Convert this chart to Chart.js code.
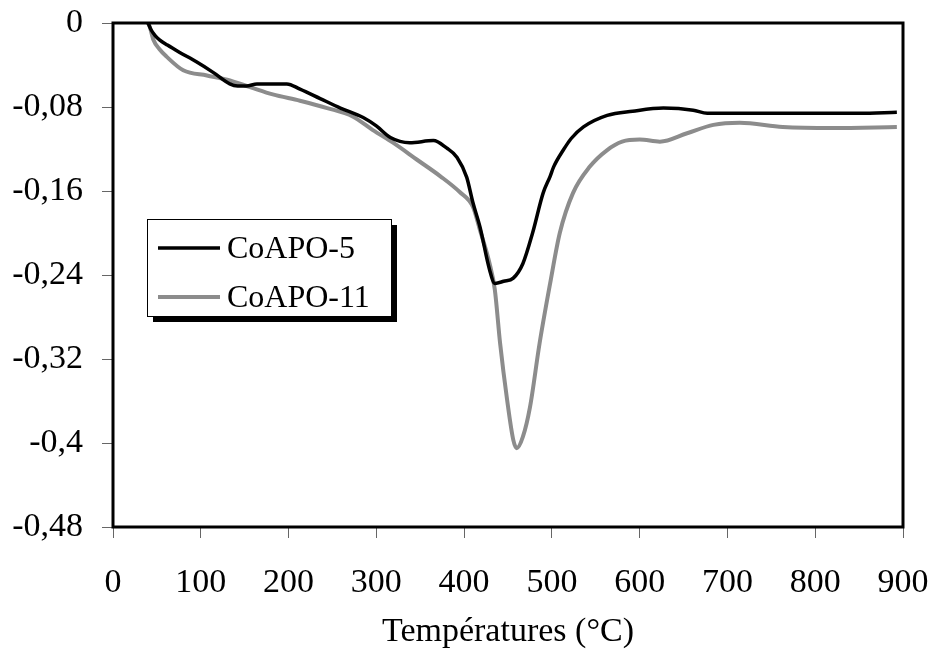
<!DOCTYPE html>
<html lang="fr">
<head>
<meta charset="utf-8">
<title>CoAPO-5 / CoAPO-11</title>
<script src="https://cdn.jsdelivr.net/npm/chart.js@4/dist/chart.umd.min.js"></script>
<style>
    html, body { margin: 0; padding: 0; background: #fff; }
    #contenedor { width: 931px; height: 661px; position: relative; }
</style>
</head>
<body>
<div id="contenedor">
    <canvas id="grafico"></canvas>
</div>
<script>
// Datos (temperatura en °C, valor en el eje Y)
const tempCoAPO5 = [40, 43, 48, 53, 62, 76, 95, 114, 133, 142, 152, 164, 180, 198, 213, 236, 259, 285, 300, 316, 338, 365, 380, 392, 403, 410, 418, 429, 435, 445, 456, 467, 478, 490, 498, 502, 513, 522, 536, 563, 592, 627, 661, 677, 706, 750, 800, 850, 893];
const valCoAPO5 = [0, -0.006, -0.012, -0.016, -0.021, -0.028, -0.037, -0.047, -0.058, -0.060, -0.060, -0.058, -0.058, -0.058, -0.063, -0.072, -0.081, -0.090, -0.098, -0.109, -0.114, -0.112, -0.119, -0.128, -0.147, -0.171, -0.194, -0.235, -0.248, -0.246, -0.243, -0.229, -0.200, -0.162, -0.146, -0.137, -0.121, -0.110, -0.099, -0.088, -0.084, -0.081, -0.083, -0.086, -0.086, -0.086, -0.086, -0.086, -0.085];

const tempCoAPO11 = [40, 42, 46, 53, 61, 80, 107, 130, 156, 182, 213, 244, 273, 296, 319, 346, 373, 395, 410, 418, 429, 435, 441, 449, 456, 460, 467, 475, 486, 498, 509, 524, 543, 563, 580, 600, 623, 654, 684, 714, 763, 820, 893];
const valCoAPO11 = [0, -0.004, -0.016, -0.025, -0.032, -0.045, -0.050, -0.054, -0.061, -0.068, -0.074, -0.081, -0.089, -0.102, -0.114, -0.130, -0.146, -0.161, -0.175, -0.197, -0.229, -0.254, -0.305, -0.359, -0.397, -0.405, -0.394, -0.366, -0.305, -0.248, -0.200, -0.162, -0.137, -0.121, -0.113, -0.111, -0.113, -0.105, -0.097, -0.095, -0.099, -0.100, -0.099];

const etiquetas = ['CoAPO-5', 'CoAPO-11'];
const colores = ['#000000', '#8c8c8c'];
const tituloX = 'Températures (°C)';

const familia = '"Liberation Serif", "Times New Roman", serif';
const fuente = { family: familia, size: 34 };
const fuenteLeyenda = { family: familia, size: 32 };

function aPuntos(xs, ys) {
    return xs.map((x, i) => ({ x: x, y: ys[i] }));
}

function formatoY(v) {
    const n = Number(v.toFixed(2));
    return n === 0 ? '0' : String(n).replace('.', ',');
}

// Marco completo del área de trazado
const marco = {
    id: 'marco',
    afterDatasetsDraw(chart) {
        const { ctx, chartArea: a } = chart;
        ctx.save();
        ctx.strokeStyle = '#000';
        ctx.lineWidth = 3;
        ctx.strokeRect(a.left, a.top, a.right - a.left, a.bottom - a.top);
        ctx.restore();
    }
};

// Leyenda con caja y sombra, como en el original
const leyenda = {
    id: 'leyenda',
    afterDraw(chart) {
        const { ctx, chartArea: a } = chart;
        const x = a.left + 34, y = a.top + 196, w = 244, h = 97;
        ctx.save();
        ctx.fillStyle = '#000';
        ctx.fillRect(x + 6, y + 6, w, h);
        ctx.fillStyle = '#fff';
        ctx.fillRect(x, y, w, h);
        ctx.strokeStyle = '#000';
        ctx.lineWidth = 1;
        ctx.strokeRect(x + 0.5, y + 0.5, w, h);
        ctx.font = fuenteLeyenda.size + 'px ' + fuenteLeyenda.family;
        ctx.textBaseline = 'middle';
        chart.data.datasets.forEach((ds, i) => {
            const ly = y + 29 + i * 49;
            ctx.strokeStyle = ds.borderColor;
            ctx.lineWidth = ds.borderWidth;
            ctx.beginPath();
            ctx.moveTo(x + 11, ly);
            ctx.lineTo(x + 73, ly);
            ctx.stroke();
            ctx.fillStyle = '#000';
            ctx.fillText(ds.label, x + 80, ly + 2);
        });
        ctx.restore();
    }
};

const ctx = document.getElementById('grafico').getContext('2d');
new Chart(ctx, {
    type: 'line',
    data: {
        datasets: [
            {
                label: etiquetas[0],
                data: aPuntos(tempCoAPO5, valCoAPO5),
                borderColor: colores[0],
                borderWidth: 3.5,
                pointRadius: 0,
                cubicInterpolationMode: 'monotone',
                fill: false
            },
            {
                label: etiquetas[1],
                data: aPuntos(tempCoAPO11, valCoAPO11),
                borderColor: colores[1],
                borderWidth: 4,
                pointRadius: 0,
                cubicInterpolationMode: 'monotone',
                fill: false
            }
        ]
    },
    options: {
        responsive: true,
        maintainAspectRatio: false,
        animation: false,
        layout: { padding: { top: 23, right: 28, bottom: 0, left: 0 } },
        plugins: {
            legend: { display: false },
            tooltip: { enabled: false }
        },
        scales: {
            x: {
                type: 'linear',
                min: 0,
                max: 900,
                afterFit(scale) {
                    scale.height = 134;
                    scale.paddingLeft = 0;
                    scale.paddingRight = 0;
                },
                ticks: { stepSize: 100, color: '#000', font: fuente, padding: 25, maxRotation: 0 },
                grid: { drawOnChartArea: false, tickLength: 11, color: '#666', lineWidth: 1 },
                border: { display: false },
                title: { display: true, text: tituloX, color: '#000', font: fuente, padding: { top: 0, bottom: 9 } }
            },
            y: {
                min: -0.48,
                max: 0,
                afterFit(scale) {
                    scale.width = 113;
                    scale.paddingTop = 0;
                    scale.paddingBottom = 0;
                },
                ticks: { stepSize: 0.08, color: '#000', font: fuente, padding: 19, callback: formatoY },
                grid: { drawOnChartArea: false, tickLength: 11, color: '#666', lineWidth: 1 },
                border: { display: false }
            }
        }
    },
    plugins: [marco, leyenda]
});
</script>
</body>
</html>
